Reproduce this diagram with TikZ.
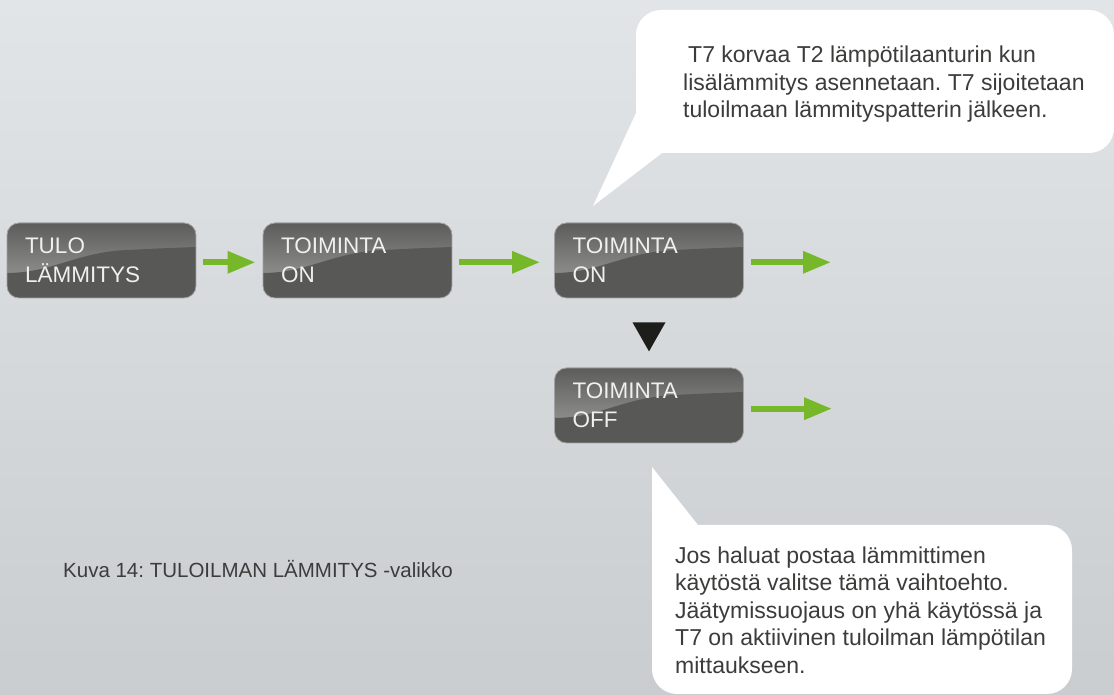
\documentclass[tikz,border=0pt]{standalone}
\usepackage{fontspec}
\setmainfont{Liberation Sans}
\usetikzlibrary{arrows.meta,calc}
\definecolor{bgtop}{HTML}{E2E5E8}
\definecolor{bgbot}{HTML}{C9CDD0}
\definecolor{boxbase}{HTML}{585856}
\definecolor{boxtop}{HTML}{5C5C5A}
\definecolor{boxglow}{HTML}{8E8E8C}
\definecolor{boxline}{HTML}{A2A3A3}
\definecolor{arrowgreen}{HTML}{76B82A}
\definecolor{txtdark}{HTML}{3C3C3B}
\definecolor{marker}{HTML}{1D1D1B}
\tikzset{
  menubox/.style={rectangle, rounded corners=12pt, draw=boxline,
    line width=0.8pt, minimum width=189pt, minimum height=75pt,
    text width=153pt, inner xsep=18pt, inner ysep=0pt, align=left,
    text=white!94!black, font=\fontsize{22.5}{28.5}\selectfont},
  flowarrow/.style={draw=arrowgreen, line width=6pt, -{Triangle[length=28pt,width=21pt]}},
  bubble/.style={fill=white},
  callouttext/.style={align=left, text=txtdark, inner sep=0pt,
    font=\fontsize{23}{27.5}\selectfont},
}
% glossy background of a menu box centred at (#2,#3), then the node #1 with text #4
\newcommand\glossbox[4]{%
  \begin{scope}[shift={(#2,#3)}]
    \begin{scope}
      \clip[rounded corners=12pt] (-94.5,-37.5) rectangle (94.5,37.5);
      \fill[boxbase] (-95,-38) rectangle (95,38);
      \shade[top color=boxtop, bottom color=boxglow] (-95,38) rectangle (95,-15.5);
      \fill[boxbase] (-95,-38) -- (-95,-12.5) .. controls (-49.5,-12.5) and (-24.5,8.5) .. (25.5,10.5)
        .. controls (55.5,12) .. (95,13.5) -- (95,-38) -- cycle;
    \end{scope}
  \end{scope}
  \node[menubox] (#1) at (#2,#3) {#4};}
\begin{document}
\frenchspacing
\begin{tikzpicture}[x=1pt, y=1pt]
  \useasboundingbox (0,0) rectangle (1114,695);
  \shade[top color=bgtop, bottom color=bgbot] (0,0) rectangle (1114,695);

  % menu boxes
  \glossbox{b1}{101.5}{434.5}{TULO\\LÄMMITYS}
  \glossbox{b2}{357.5}{434.5}{TOIMINTA\\ON}
  \glossbox{b3}{649}{434.5}{TOIMINTA\\ON}
  \glossbox{b4}{649}{289.5}{TOIMINTA\\OFF}

  % arrows
  \coordinate (e3) at (831,432.7);
  \coordinate (e4) at (832,286.3);
  \draw[flowarrow, shorten <=7pt, shorten >=7pt] ([yshift=-1.8pt]b1.east) -- ([yshift=-1.8pt]b2.west);
  \draw[flowarrow, shorten <=7pt, shorten >=14pt] ([yshift=-1.8pt]b2.east) -- ([yshift=-1.8pt]b3.west);
  \draw[flowarrow, shorten <=7pt] ([yshift=-1.8pt]b3.east) -- (e3);
  \draw[flowarrow, shorten <=7pt] ([yshift=-3.2pt]b4.east) -- (e4);

  % down marker
  \fill[marker] ($(b3.south)+(-16.5,-24)$) -- ($(b3.south)+(16.5,-24)$) -- ($(b3.south)+(0,-53)$) -- cycle;

  % callout 1
  \fill[bubble] (593,489) -- (636,582) -- (636,660) arc[start angle=180, end angle=90, radius=25]
    -- (1089,685) arc[start angle=90, end angle=0, radius=25]
    -- (1114,567) arc[start angle=0, end angle=-90, radius=25]
    -- (662,542) -- cycle;
  \node[callouttext, anchor=west] (t1) at (683,610.5)
    {\hspace*{5pt}T7 korvaa T2 lämpötilaanturin kun\\lisälämmitys asennetaan. T7 sijoitetaan\\tuloilmaan lämmityspatterin jälkeen.};

  % callout 2
  \fill[bubble] (652,228) -- (698,170) -- (1047,170) arc[start angle=90, end angle=0, radius=25]
    -- (1072,26) arc[start angle=0, end angle=-90, radius=25]
    -- (677,1) arc[start angle=270, end angle=180, radius=25] -- cycle;
  \node[callouttext, anchor=west] (t2) at (675,85)
    {Jos haluat postaa lämmittimen\\käytöstä valitse tämä vaihtoehto.\\Jäätymissuojaus on yhä käytössä ja\\T7 on aktiivinen tuloilman lämpötilan\\mittaukseen.};

  % caption
  \node[anchor=base west, inner sep=0pt, text=txtdark, font=\fontsize{20.5}{25}\selectfont] (cap) at (63,117)
    {Kuva 14: TULOILMAN LÄMMITYS -valikko};
\end{tikzpicture}
\end{document}
